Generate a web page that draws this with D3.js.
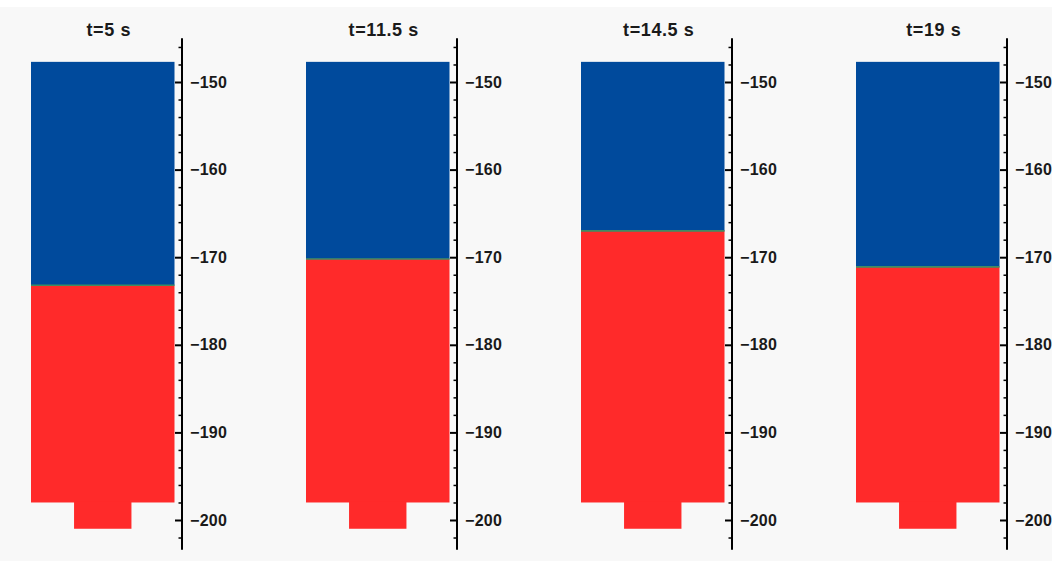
<!DOCTYPE html>
<html>
<head>
<meta charset="utf-8">
<script src="https://cdn.jsdelivr.net/npm/d3@7/dist/d3.min.js"></script>
<style>
  html, body { margin: 0; padding: 0; background: #ffffff; }
  svg { display: block; }
</style>
</head>
<body>
<svg id="chart" width="1052" height="561"></svg>
<script>
// Snapshot labels and the blue/red interface level (height) at each time
const snapshotLabels = ["t=5 s", "t=11.5 s", "t=14.5 s", "t=19 s"];
const interfaceLevels = [-173.2, -170.2, -167.0, -171.1];

// Column geometry in height units (top of domain, bottom of main column, bottom of nozzle)
const columnTop = -147.7;
const columnBottom = -198.0;
const nozzleBottom = -201.0;

// Horizontal geometry (normalised half-widths)
const columnHalfWidth = [ -1, 1 ];
const nozzleHalfWidth = [ -0.4, 0.4 ];

// Axis ticks
const majorTicks = [-150, -160, -170, -180, -190, -200];
const minorTicks = [-146, -148, -152, -154, -156, -158, -162, -164, -166, -168,
                    -172, -174, -176, -178, -182, -184, -186, -188, -192, -194,
                    -196, -198, -202];
const axisExtent = [-145, -203.4];

const W = 1052, H = 561;
const svg = d3.select("#chart");

svg.append("rect").attr("x", 0).attr("y", 7).attr("width", W).attr("height", H - 7)
  .attr("fill", "#f8f8f8");

const y = d3.scaleLinear().domain([-150, -200]).range([82, 520]);
const panelX = d3.scaleBand().domain(snapshotLabels).range([31, 31 + 275 * 4]).paddingInner(0).paddingOuter(0);
const x = d3.scaleLinear().domain([-1, 1]).range([0, 143.5]);

const blue = "#004a9c", red = "#ff2a2a", seam = "#3e8c63";
const font = "Liberation Sans, Arial, sans-serif";

snapshotLabels.forEach((label, i) => {
  const g = svg.append("g").attr("transform", `translate(${panelX(label)},0)`);
  const level = interfaceLevels[i];

  // upper (blue) fluid
  g.append("rect")
    .attr("x", x(columnHalfWidth[0])).attr("width", x(columnHalfWidth[1]) - x(columnHalfWidth[0]))
    .attr("y", y(columnTop)).attr("height", y(level) - y(columnTop))
    .attr("fill", blue);
  // lower (red) fluid in the column
  g.append("rect")
    .attr("x", x(columnHalfWidth[0])).attr("width", x(columnHalfWidth[1]) - x(columnHalfWidth[0]))
    .attr("y", y(level)).attr("height", y(columnBottom) - y(level))
    .attr("fill", red);
  // nozzle at the bottom
  g.append("rect")
    .attr("x", x(nozzleHalfWidth[0])).attr("width", x(nozzleHalfWidth[1]) - x(nozzleHalfWidth[0]))
    .attr("y", y(columnBottom) - 0.5).attr("height", y(nozzleBottom) - y(columnBottom) + 0.5)
    .attr("fill", red);
  // thin interface seam
  g.append("line")
    .attr("x1", x(columnHalfWidth[0])).attr("x2", x(columnHalfWidth[1]))
    .attr("y1", y(level)).attr("y2", y(level))
    .attr("stroke", seam).attr("stroke-width", 1.6);

  // title
  g.append("text")
    .attr("x", x(0) + 6).attr("y", 36)
    .attr("text-anchor", "middle")
    .attr("font-family", font)
    .attr("font-weight", "bold").attr("font-size", 18)
    .attr("letter-spacing", 0.6)
    .attr("fill", "#1a1a1a")
    .text(label);

  // height axis
  const ax = g.append("g").attr("transform", `translate(${x(1) + 7.5},0)`);
  ax.append("line")
    .attr("x1", 0).attr("x2", 0)
    .attr("y1", y(axisExtent[0])).attr("y2", y(axisExtent[1]))
    .attr("stroke", "#000").attr("stroke-width", 2);

  const minorAxis = d3.axisRight(y).tickValues(minorTicks).tickSizeInner(-3.5).tickSizeOuter(0).tickFormat("");
  ax.append("g").call(minorAxis)
    .call(s => s.select(".domain").remove())
    .call(s => s.selectAll("line").attr("stroke", "#000").attr("stroke-width", 1.5));

  const majorAxis = d3.axisRight(y).tickValues(majorTicks).tickSizeInner(-7).tickSizeOuter(0).tickPadding(8)
    .tickFormat(d3.format("d"));
  ax.append("g").call(majorAxis)
    .call(s => s.select(".domain").remove())
    .call(s => s.selectAll("line").attr("stroke", "#000").attr("stroke-width", 2))
    .call(s => s.selectAll("text")
      .attr("font-family", font)
      .attr("font-weight", "bold").attr("font-size", 16)
      .attr("letter-spacing", 0.3)
      .attr("fill", "#1a1a1a"));
});
</script>
</body>
</html>
